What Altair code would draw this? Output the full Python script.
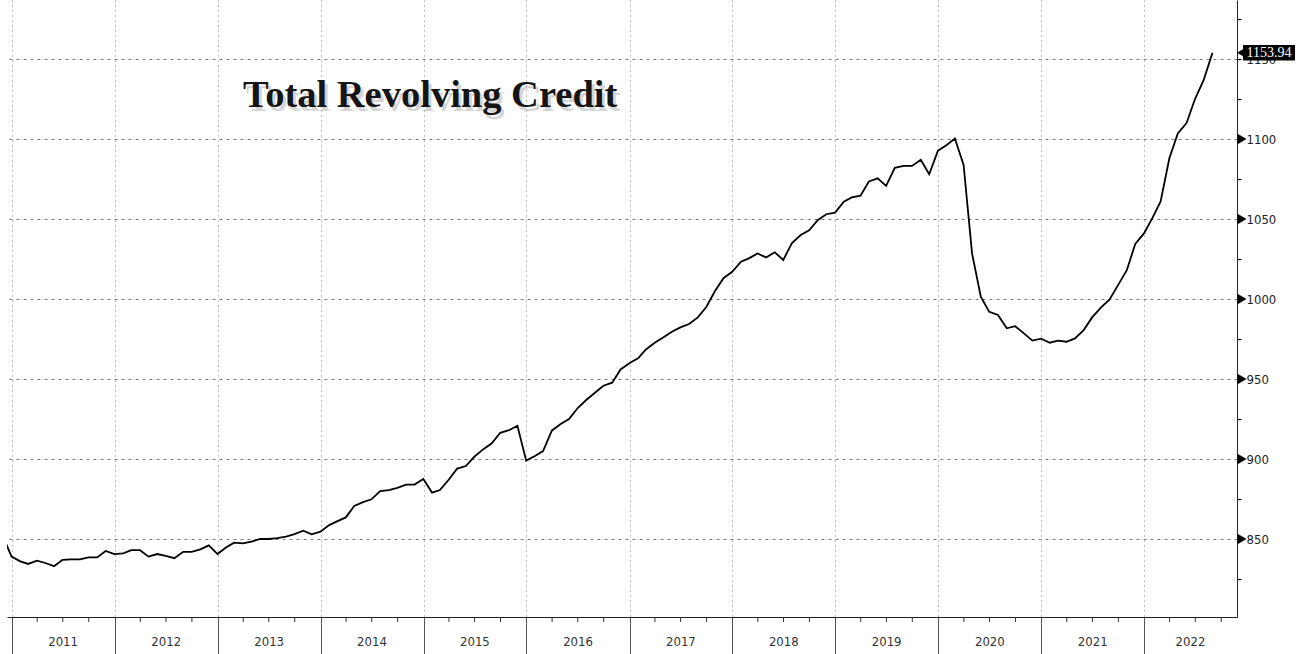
import altair as alt
import pandas as pd

# ---------------- data ----------------
values_2010 = [852.0, 839.0]  # Nov, Dec 2010
values_2011 = [836.0, 834.4, 836.5, 835.0, 833.0, 837.0, 837.3, 837.3, 838.5, 838.5, 842.5, 840.6]
values_2012 = [841.0, 843.0, 843.0, 839.0, 840.6, 839.4, 838.0, 842.0, 842.0, 843.5, 846.0, 840.6]
values_2013 = [844.8, 847.7, 847.3, 848.3, 850.0, 850.0, 850.6, 851.5, 853.0, 855.2, 852.9, 854.6]
values_2014 = [858.7, 861.0, 863.5, 870.6, 873.0, 874.8, 880.0, 880.6, 882.0, 884.0, 884.0, 887.5]
values_2015 = [879.0, 880.6, 887.0, 894.0, 895.6, 901.4, 906.0, 909.8, 916.4, 918.0, 920.8, 899.0]
values_2016 = [901.9, 905.0, 917.7, 921.7, 925.0, 931.7, 936.9, 941.4, 945.8, 947.7, 956.0, 959.8]
values_2017 = [962.9, 968.5, 972.7, 976.0, 979.6, 982.3, 984.4, 988.5, 995.0, 1005.0, 1013.0, 1017.0]
values_2018 = [1023.3, 1025.4, 1028.5, 1026.0, 1029.2, 1024.4, 1035.0, 1040.0, 1043.0, 1049.4, 1053.0, 1054.0]
values_2019 = [1060.8, 1063.5, 1064.6, 1073.5, 1075.4, 1070.7, 1082.0, 1083.2, 1083.2, 1087.0, 1078.0, 1092.7]
values_2020 = [1096.3, 1100.3, 1083.8, 1028.5, 1001.5, 992.0, 990.0, 981.7, 983.0, 978.5, 974.0, 975.2]
values_2021 = [972.7, 974.0, 973.3, 975.4, 980.6, 988.5, 994.6, 999.8, 1008.7, 1018.0, 1034.4, 1041.0]
values_2022 = [1051.0, 1061.0, 1088.0, 1103.5, 1110.0, 1125.0, 1137.0, 1153.94]

years = list(range(2011, 2023))
year_labels = [str(y) for y in years]
y_major = [850, 900, 950, 1000, 1050, 1100, 1150]
y_ticks = [825, 850, 875, 900, 925, 950, 975, 1000, 1025, 1050, 1075, 1100, 1125, 1150, 1175]
title_text = "Total Revolving Credit"
last_label = "1153.94"

all_values = (values_2010 + values_2011 + values_2012 + values_2013 + values_2014 +
              values_2015 + values_2016 + values_2017 + values_2018 + values_2019 +
              values_2020 + values_2021 + values_2022)
dates = pd.date_range("2010-11-30", periods=len(all_values), freq="ME")
df = pd.DataFrame({"date": dates.strftime("%Y-%m-%d"), "val": all_values})

x_start = pd.Timestamp("2010-12-15")
x_end = pd.Timestamp("2022-11-26")

# quarter ticks
q_dates = []
for y in years:
    for m in (4, 7, 10):
        d = pd.Timestamp(year=y, month=m, day=1)
        if d < x_end:
            q_dates.append(d.strftime("%Y-%m-%d"))
q_df = pd.DataFrame({"date": q_dates})

# year label positions (middle of visible part of each year)
mids = []
for y in years:
    a = pd.Timestamp(year=y, month=1, day=1)
    b = min(pd.Timestamp(year=y + 1, month=1, day=1), x_end)
    mids.append((a + (b - a) / 2).strftime("%Y-%m-%d"))
lab_df = pd.DataFrame({"date": mids, "label": year_labels})

tri_df = pd.DataFrame({"val": [v for v in y_major if v != 1150]})
last_val = all_values[-1]
tag_df = pd.DataFrame({"val": [last_val], "top": [last_val + 4.9], "bot": [last_val - 4.9],
                       "label": [last_label]})
title_df = pd.DataFrame({"label": [title_text]})

W, H = 1230, 617

x_scale = alt.Scale(type="utc", domain=[x_start.strftime("%Y-%m-%d"), x_end.strftime("%Y-%m-%d")])
y_scale = alt.Scale(domain=[801.25, 1186.9], nice=False, zero=False)

year_starts = [alt.DateTime(year=y, month=1, date=1, utc=True) for y in years]

X_AXIS = alt.Axis(values=year_starts, labels=False, title=None,
                  grid=True, gridColor="#7a7a7a", gridDash=[1, 4], gridWidth=1,
                  tickSize=37, tickColor="#555", tickWidth=1,
                  domain=True, domainColor="#222", domainWidth=1, zindex=0)
Y_AXIS = alt.Axis(orient="right", values=y_ticks, title=None, format="d",
                  labelExpr="datum.value % 50 == 0 ? datum.label : ''",
                  labelFont="DejaVu Sans Condensed", labelFontSize=13, labelColor="#222",
                  labelPadding=5,
                  tickSize=4, tickColor="#111", tickWidth=1.2,
                  domain=True, domainColor="#222", domainWidth=1,
                  grid=True, gridColor="#7a7a7a", gridDash=[3, 4], gridWidth=1,
                  gridOpacity={"condition": {"test": "datum.value % 50 == 0", "value": 1},
                               "value": 0}, zindex=0)


def X(field):
    return alt.X(field, type="temporal", scale=x_scale, axis=X_AXIS)


def Y(field):
    return alt.Y(field, type="quantitative", scale=y_scale, axis=Y_AXIS)


line = alt.Chart(df).mark_line(color="black", strokeWidth=1.8, clip=True).encode(
    x=X("date"), y=Y("val"),
)

qticks = alt.Chart(q_df).mark_rule(color="#333", strokeWidth=1).encode(
    x=X("date"),
    y=alt.value(H), y2=alt.value(H + 5),
)

ylabels = alt.Chart(lab_df).mark_text(font="DejaVu Sans Condensed", fontSize=13, color="#333",
                                       baseline="middle").encode(
    x=X("date"),
    y=alt.value(H + 25),
    text="label:N",
)

title_shadow = alt.Chart(title_df).mark_text(font="Liberation Serif", fontSize=38.5, fontWeight="bold",
                                             align="left", baseline="alphabetic",
                                             color="#777", opacity=0.3).encode(
    x=alt.value(239), y=alt.value(111), text="label:N")
title = alt.Chart(title_df).mark_text(font="Liberation Serif", fontSize=38.5, fontWeight="bold",
                                      align="left", baseline="alphabetic", color="#151515").encode(
    x=alt.value(236), y=alt.value(107), text="label:N")

tris = alt.Chart(tri_df).mark_point(shape="triangle-right", filled=True, fill="black",
                                    stroke="black", strokeWidth=0.5,
                                    size=90, opacity=1).encode(
    x=alt.value(W + 5),
    y=Y("val"),
)

tag_rect = alt.Chart(tag_df).mark_rect(color="black").encode(
    x=alt.value(W + 6), x2=alt.value(W + 58),
    y=Y("top"), y2="bot:Q",
)
tag_arrow = alt.Chart(tag_df).mark_point(shape="triangle-left", filled=True, fill="black",
                                         stroke="black", strokeWidth=0.5,
                                         size=110, opacity=1).encode(
    x=alt.value(W + 5),
    y=Y("val"),
)
tag_text = alt.Chart(tag_df).mark_text(font="Liberation Serif", fontSize=14, color="white",
                                       align="center", baseline="middle").encode(
    x=alt.value(W + 32),
    y=Y("val"),
    text="label:N",
)

chart = alt.layer(line, qticks, ylabels, title_shadow, title, tris, tag_rect, tag_arrow, tag_text).properties(
    width=W, height=H,
    autosize=alt.AutoSizeParams(type="none"),
    padding={"left": 7, "top": 0, "right": 65, "bottom": 37},
    background="white",
).configure_view(stroke=None)

chart.save("out.html", embed_options={"renderer": "svg", "actions": False})
